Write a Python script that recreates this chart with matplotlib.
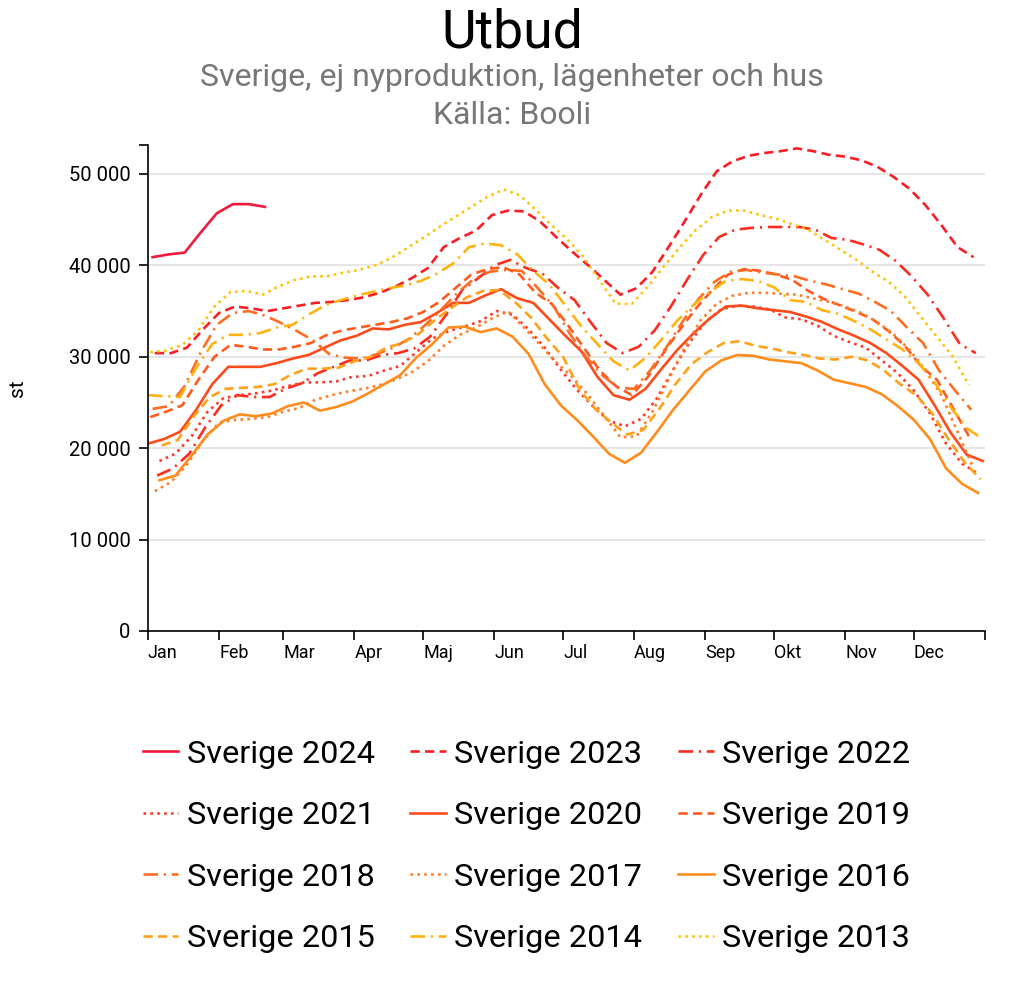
import numpy as np
import pandas as pd
import matplotlib
matplotlib.use('Agg')
import matplotlib.pyplot as plt
from matplotlib.ticker import FuncFormatter, FixedLocator

plt.rcParams['font.family'] = ['Roboto', 'DejaVu Sans']

# weekly values (thousands), one point per Wednesday of each year
v2024 = [40.9, 41.2, 41.4, 43.6, 45.7, 46.7, 46.7, 46.4]
v2023 = [30.4, 30.4, 31.0, 33.0, 34.8, 35.5, 35.3, 35.0, 35.3, 35.6, 35.9, 36.0, 36.2,
         36.5, 37.0, 37.7, 38.6, 39.7, 42.0, 43.0, 43.8, 45.5, 46.0, 45.9, 44.8, 43.1,
         41.5, 40.0, 38.4, 36.8, 37.5, 39.3, 42.0, 44.8, 47.7, 50.3, 51.4, 52.0, 52.3,
         52.5, 52.8, 52.5, 52.1, 51.9, 51.5, 50.8, 49.7, 48.4, 46.6, 44.4, 42.0, 40.9]
v2022 = [17.0, 17.8, 19.4, 22.3, 24.7, 25.8, 25.6, 25.6, 26.5, 27.1, 28.2, 28.9, 29.6,
         29.6, 30.2, 30.4, 30.9, 32.2, 34.6, 37.3, 38.6, 40.0, 40.6, 39.7, 39.1, 37.5,
         36.2, 33.8, 31.5, 30.4, 31.1, 32.9, 35.5, 38.4, 41.1, 43.1, 43.9, 44.1, 44.2,
         44.2, 44.2, 43.9, 43.0, 42.8, 42.3, 41.7, 40.5, 38.8, 36.8, 34.2, 31.4, 30.4]
v2021 = [18.6, 19.4, 21.3, 24.0, 25.5, 25.8, 26.0, 26.3, 26.8, 27.2, 27.2, 27.3, 27.8,
         27.9, 28.5, 29.0, 30.5, 32.0, 32.8, 33.3, 33.9, 35.0, 34.6, 33.0, 31.0, 28.6,
         26.4, 24.6, 23.0, 22.4, 23.2, 25.5, 28.6, 31.5, 33.8, 35.2, 35.6, 35.5, 35.2,
         34.3, 34.1, 33.4, 32.3, 31.6, 31.0, 29.6, 28.2, 26.3, 23.8, 20.5, 18.3, 17.2]
v2020 = [20.5, 21.0, 21.8, 24.2, 27.0, 28.9, 28.9, 28.9, 29.3, 29.8, 30.2, 31.0, 31.8,
         32.3, 33.1, 33.0, 33.5, 33.8, 34.8, 35.9, 35.9, 36.7, 37.4, 36.4, 35.9, 34.1,
         32.3, 30.6, 27.8, 25.8, 25.3, 26.5, 28.7, 30.8, 32.6, 34.2, 35.5, 35.6, 35.3,
         35.1, 34.9, 34.4, 33.8, 33.0, 32.3, 31.5, 30.4, 29.0, 27.5, 24.7, 21.7, 19.3, 18.6]
v2019 = [23.4, 24.0, 24.7, 27.5, 30.0, 31.3, 31.1, 30.8, 30.8, 31.1, 31.5, 32.4, 32.9,
         33.2, 33.5, 33.8, 34.2, 34.9, 36.0, 37.5, 39.0, 39.6, 39.8, 39.0, 37.0, 35.8,
         33.5, 31.0, 28.5, 26.8, 25.8, 27.8, 30.5, 33.0, 35.3, 37.3, 39.0, 39.6, 39.4,
         39.0, 38.4, 37.2, 36.3, 35.6, 34.9, 34.1, 32.8, 31.2, 29.0, 27.5, 24.4, 21.3]
v2018 = [24.3, 24.6, 26.8, 30.5, 33.5, 34.8, 35.0, 34.5, 33.7, 32.8, 31.8, 30.3, 29.9,
         29.8, 30.3, 31.0, 32.0, 33.5, 35.2, 37.0, 38.5, 39.3, 39.5, 39.4, 37.5, 35.5,
         32.5, 30.0, 28.0, 26.6, 26.5, 28.5, 31.0, 33.8, 36.3, 38.2, 39.3, 39.5, 39.2,
         39.0, 38.8, 38.3, 37.9, 37.4, 36.9, 36.0, 35.0, 33.2, 31.5, 28.5, 26.3, 24.2]
v2017 = [15.3, 16.3, 18.2, 20.8, 22.8, 23.1, 23.2, 23.4, 24.0, 24.4, 25.3, 25.8, 26.2,
         26.5, 26.9, 27.5, 28.3, 29.5, 31.2, 32.4, 33.2, 34.2, 35.0, 33.2, 31.3, 29.4,
         27.8, 25.8, 23.5, 21.2, 21.3, 24.0, 27.5, 31.0, 34.0, 35.8, 36.7, 37.0, 37.0,
         36.9, 36.8, 36.4, 36.0, 35.5, 34.8, 33.8, 32.5, 30.8, 28.5, 25.8, 21.8, 17.8]
v2016 = [16.5, 17.0, 19.2, 21.5, 23.0, 23.7, 23.5, 23.8, 24.6, 25.0, 24.1, 24.5, 25.1,
         26.0, 27.0, 28.0, 29.9, 31.4, 33.2, 33.3, 32.7, 33.1, 32.2, 30.3, 27.0, 24.7,
         23.1, 21.3, 19.4, 18.4, 19.5, 21.8, 24.2, 26.3, 28.4, 29.6, 30.2, 30.1, 29.7,
         29.5, 29.3, 28.5, 27.5, 27.1, 26.7, 25.9, 24.6, 23.1, 21.0, 17.8, 16.1, 15.1]
v2015 = [20.3, 20.9, 23.5, 25.6, 26.5, 26.6, 26.7, 27.0, 28.0, 28.7, 28.7, 28.8, 29.5,
         30.0, 31.0, 31.5, 32.5, 34.0, 35.3, 36.5, 37.2, 37.3, 36.0, 34.3, 32.0, 30.0,
         26.5, 24.3, 22.8, 21.5, 22.0, 24.3, 27.0, 29.2, 30.5, 31.5, 31.7, 31.2, 30.9,
         30.5, 30.2, 29.8, 29.7, 30.0, 29.6, 28.5, 27.0, 25.8, 23.8, 21.0, 18.5, 16.6]
v2014 = [25.8, 25.7, 25.6, 28.8, 31.4, 32.4, 32.4, 32.6, 33.2, 33.5, 34.6, 35.6, 36.2,
         36.7, 37.1, 37.5, 37.8, 38.3, 39.1, 40.2, 42.0, 42.4, 42.2, 41.2, 39.4, 37.9,
         35.6, 33.3, 31.4, 29.5, 28.5, 29.9, 31.9, 34.0, 35.7, 37.1, 38.3, 38.5, 38.3,
         37.6, 36.2, 36.0, 35.1, 34.7, 33.9, 33.0, 31.9, 30.8, 29.3, 27.2, 24.5, 22.2, 21.0]
v2013 = [30.5, 30.7, 31.3, 32.9, 35.5, 37.1, 37.2, 36.8, 37.7, 38.4, 38.8, 38.8, 39.2,
         39.5, 40.0, 40.8, 41.9, 43.0, 44.2, 45.3, 46.4, 47.5, 48.3, 47.7, 46.1, 44.4,
         42.8, 40.9, 38.3, 35.8, 35.8, 37.7, 39.9, 42.0, 43.9, 45.3, 46.0, 46.0, 45.5,
         45.1, 44.5, 43.9, 42.8, 41.7, 40.6, 39.3, 38.2, 36.6, 34.4, 32.2, 30.0, 26.9]

years = [2024, 2023, 2022, 2021, 2020, 2019, 2018, 2017, 2016, 2015, 2014, 2013]
series = [v2024, v2023, v2022, v2021, v2020, v2019, v2018, v2017, v2016, v2015, v2014, v2013]
colors = ['#ef1b3c', '#fb1d25', '#fd2c1e', '#ff3b2c', '#ff4b1c', '#ff5b1f',
          '#ff6d22', '#ff7e2a', '#ff8d1d', '#ffa11a', '#ffb210', '#ffc30f']
styles = ['-', (0, (3.5, 2)), (0, (5.5, 2.2, 0.8, 2.2)), (0, (1, 1.6))] * 3

months = ['Jan', 'Feb', 'Mar', 'Apr', 'Maj', 'Jun', 'Jul', 'Aug', 'Sep', 'Okt', 'Nov', 'Dec']

fig = plt.figure(figsize=(10.24, 9.88), dpi=100)
ax = fig.add_axes([148 / 1024, 1 - 631 / 988, 837 / 1024, 486 / 988])

base = pd.Timestamp('2001-01-01')
for year, vals, col, ls in zip(years, series, colors, styles):
    weds = pd.date_range(f'{year}-01-01', f'{year}-12-31', freq='W-WED')[:len(vals)]
    x = base + pd.to_timedelta(weds.dayofyear - 1, unit='D')
    ax.plot(x, np.array(vals) * 1000, color=col, lw=1.9, linestyle=ls,
            label=f'Sverige {year}')

ytop = 53170
ax.set_ylim(0, ytop)
ax.set_xlim(base, pd.Timestamp('2002-01-01'))

# x axis: month starts, labels left of each tick
ticks = [pd.Timestamp(f'2001-{m:02d}-01') for m in range(1, 13)] + [pd.Timestamp('2002-01-01')]
ax.set_xticks(ticks)
ax.set_xticklabels(months + [''], ha='left', fontsize=13)

ax.set_yticks(range(0, 50001, 10000))
ax.yaxis.set_major_formatter(FuncFormatter(lambda v, p: f'{int(v):,}'.replace(',', ' ')))
ax.yaxis.set_minor_locator(FixedLocator([ytop]))
ax.tick_params(axis='y', labelsize=14.5, pad=6)
ax.tick_params(which='both', direction='out', length=6.5, width=1.2, color='black')
ax.tick_params(axis='x', pad=3)

ax.grid(axis='y', color='#e6e6e6', lw=1.5)
ax.set_axisbelow(True)
for s in ['top', 'right']:
    ax.spines[s].set_visible(False)
for s in ['left', 'bottom']:
    ax.spines[s].set_linewidth(1.2)

fig.text(0.5, 1 - 33 / 988, 'Utbud', ha='center', va='center', fontsize=38.5)
fig.text(0.5, 1 - 78 / 988, 'Sverige, ej nyproduktion, lägenheter och hus',
         ha='center', va='center', fontsize=23, color='#777777')
fig.text(0.5, 1 - 116 / 988, 'Källa: Booli', ha='center', va='center',
         fontsize=23, color='#777777')
fig.text(18 / 1024, 1 - 388 / 988, 'st', rotation=90, ha='center', va='center', fontsize=15)

handles, labels = ax.get_legend_handles_labels()
order = list(range(0, 12, 3)) + list(range(1, 12, 3)) + list(range(2, 12, 3))
fig.legend([handles[i] for i in order], [labels[i] for i in order], ncol=3,
           loc='upper center', bbox_to_anchor=(0.514, 0.281), frameon=False,
           fontsize=23.4, handlelength=1.1, handletextpad=0.25, columnspacing=1.1,
           labelspacing=1.0)

fig.savefig('out.png', dpi=100)
